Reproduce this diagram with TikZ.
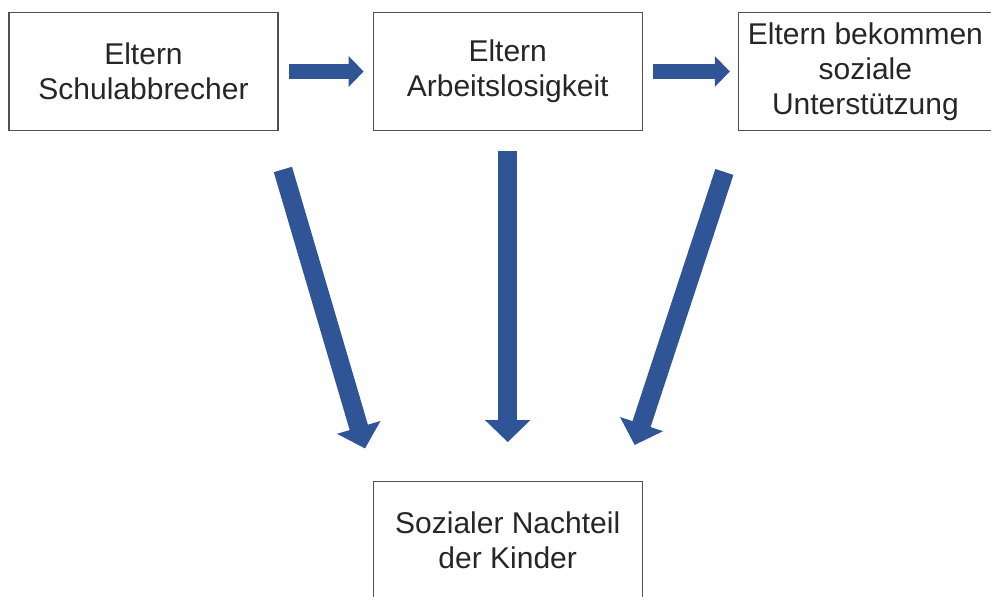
\documentclass[tikz,border=0pt]{standalone}
\usepackage{fontspec}
\setmainfont{Liberation Sans}
\usetikzlibrary{arrows.meta,positioning}
\definecolor{arrowblue}{HTML}{2F5597}
\definecolor{boxgray}{HTML}{505050}

\begin{document}
\begin{tikzpicture}[
  x=1pt,y=1pt,
  box/.style={draw=boxgray,line width=1.2pt,align=center,minimum height=118pt,
    minimum width=269pt,inner sep=0pt,text=black!85,font=\fontsize{30}{35}\selectfont},
  flat/.style={-{Triangle[width=30pt,length=15pt]},line width=15pt,arrowblue},
  down/.style={-{Triangle[width=44pt,length=22pt]},line width=19pt,arrowblue}
]
\useasboundingbox (0,0) rectangle (991,-597);
\node[box] (school) at (143.5,-71.5) {Eltern\\Schulabbrecher};
\node[box,right=94pt of school] (jobless) {Eltern\\Arbeitslosigkeit};
\node[box,right=95pt of jobless,minimum width=254pt] (welfare) {Eltern bekommen\\soziale\\Unterstützung};
\node[box,below=350pt of jobless] (child) {Sozialer Nachteil\\der Kinder};
\draw[flat,shorten <=10pt,shorten >=9pt] (school)--(jobless);
\draw[flat,shorten <=10pt,shorten >=8pt] (jobless)--(welfare);
\draw[down,shorten <=40pt,shorten >=34pt] ([xshift=-7pt]school.south east)--([xshift=2pt]child.north west);
\draw[down,shorten <=20pt,shorten >=39pt] (jobless)--(child);
\draw[down,shorten <=43pt,shorten >=38pt] (welfare.south west)--([xshift=-20pt]child.north east);
\end{tikzpicture}
\end{document}
